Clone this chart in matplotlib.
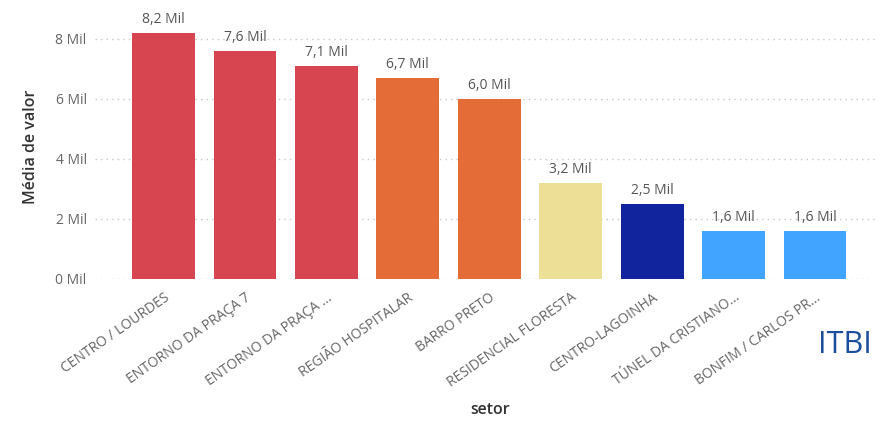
import matplotlib
matplotlib.use("Agg")
import matplotlib.pyplot as plt

setores = ["CENTRO / LOURDES", "ENTORNO DA PRAÇA 7", "ENTORNO DA PRAÇA ...",
           "REGIÃO HOSPITALAR", "BARRO PRETO", "RESIDENCIAL FLORESTA",
           "CENTRO-LAGOINHA", "TÚNEL DA CRISTIANO...", "BONFIM / CARLOS PR..."]
media = [8.2, 7.6, 7.1, 6.7, 6.0, 3.2, 2.5, 1.6, 1.6]
cores = ["#D64550", "#D64550", "#D64550", "#E36C37", "#E36C37",
         "#EEDF97", "#12239E", "#41A4FF", "#41A4FF"]
yticks = [0, 2, 4, 6, 8]

plt.rcParams['font.family'] = ['Open Sans', 'DejaVu Sans']

fig = plt.figure(figsize=(8.77, 4.21), dpi=100)
ax = fig.add_axes([95 / 877, 142 / 421, 782 / 877, 264 / 421])

x = list(range(len(setores)))
ax.bar(x, media, width=0.77, color=cores)
for xi, v in zip(x, media):
    ax.text(xi, v + 0.2, f"{v:.1f} Mil".replace(".", ","), ha="center", va="bottom",
            fontsize=10, color="#555555")

ax.set_xlim(-0.84, 8.76)
ax.set_ylim(0, 8.8)
ax.set_yticks(yticks)
ax.set_yticklabels([f"{t} Mil" for t in yticks], fontsize=10, color="#666666")
ax.grid(axis="y", color="#C8C8C8", linestyle=(0, (1, 3)), linewidth=1)
ax.set_axisbelow(True)
ax.set_xticks(x)
ax.set_xticklabels(setores, rotation=35, ha="right", rotation_mode="anchor",
                   fontsize=10, color="#666666")
ax.tick_params(axis="x", length=0, pad=8)
ax.tick_params(axis="y", length=0, pad=6)
for s in ax.spines.values():
    s.set_visible(False)

ax.set_ylabel("Média de valor", fontsize=11.5, color="#333333", labelpad=12,
              fontweight="semibold")
fig.text(490 / 877, 1 - 410 / 421, "setor", ha="center", va="center",
         fontsize=11.5, color="#333333", fontweight="semibold")
fig.text(845 / 877, 1 - 345 / 421, "ITBI", ha="center", va="center",
         fontsize=22, color="#1B4F9C")

fig.savefig("out.png", dpi=100)
